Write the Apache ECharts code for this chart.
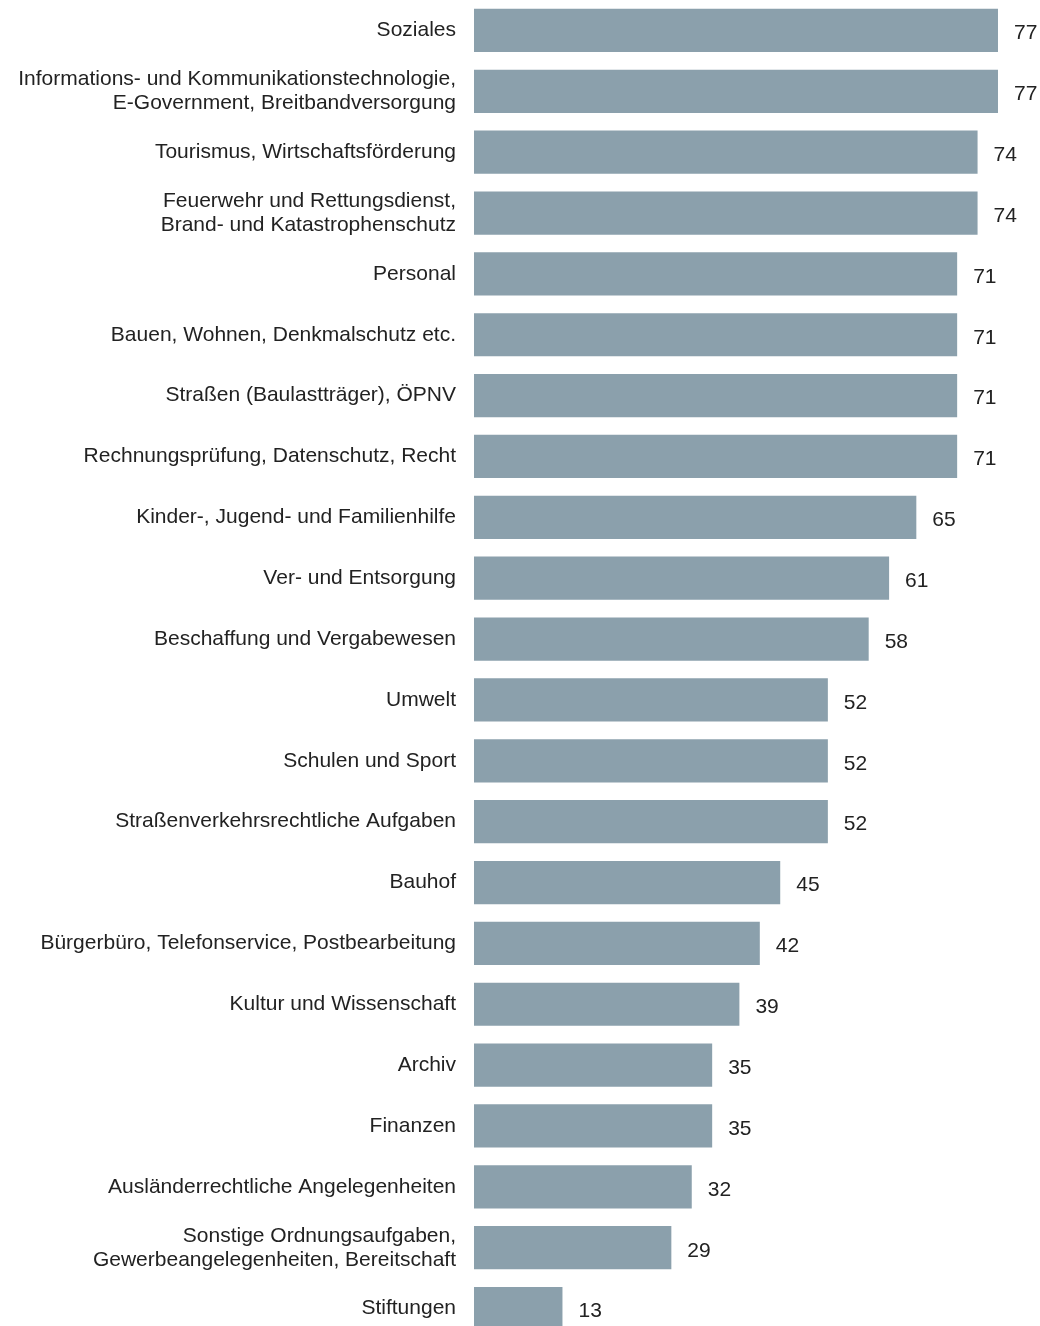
<!DOCTYPE html>
<html>
<head>
<meta charset="utf-8">
<script src="https://cdn.jsdelivr.net/npm/echarts@6/dist/echarts.min.js"></script>
<style>
  html, body { margin: 0; padding: 0; background: #ffffff; }
  #chart { width: 1040px; height: 1326px; }
</style>
</head>
<body>
<div id="chart"></div>
<script>
// Aufgabenbereiche (von oben nach unten)
const categories = [
  'Soziales',
  'Informations- und Kommunikationstechnologie,\nE-Government, Breitbandversorgung',
  'Tourismus, Wirtschaftsförderung',
  'Feuerwehr und Rettungsdienst,\nBrand- und Katastrophenschutz',
  'Personal',
  'Bauen, Wohnen, Denkmalschutz etc.',
  'Straßen (Baulastträger), ÖPNV',
  'Rechnungsprüfung, Datenschutz, Recht',
  'Kinder-, Jugend- und Familienhilfe',
  'Ver- und Entsorgung',
  'Beschaffung und Vergabewesen',
  'Umwelt',
  'Schulen und Sport',
  'Straßenverkehrsrechtliche Aufgaben',
  'Bauhof',
  'Bürgerbüro, Telefonservice, Postbearbeitung',
  'Kultur und Wissenschaft',
  'Archiv',
  'Finanzen',
  'Ausländerrechtliche Angelegenheiten',
  'Sonstige Ordnungsaufgaben,\nGewerbeangelegenheiten, Bereitschaft',
  'Stiftungen'
];

const values = [77, 77, 74, 74, 71, 71, 71, 71, 65, 61, 58, 52, 52, 52, 45, 42, 39, 35, 35, 32, 29, 13];

const FONT = '"Liberation Sans", Arial, sans-serif';

const chart = echarts.init(document.getElementById('chart'), null, { renderer: 'canvas' });

chart.setOption({
  animation: false,
  backgroundColor: '#ffffff',
  grid: {
    left: 474,
    top: 0,
    width: 544.4,
    height: 1339,
    containLabel: false,
    outerBoundsMode: 'none'
  },
  xAxis: {
    type: 'value',
    min: 0,
    max: 80,
    show: false
  },
  yAxis: {
    type: 'category',
    data: categories,
    inverse: true,
    axisLine: { show: false },
    axisTick: { show: false },
    splitLine: { show: false },
    axisLabel: {
      margin: 18,
      color: '#222222',
      fontFamily: FONT,
      fontSize: 21,
      lineHeight: 24,
      align: 'right',
      padding: [4, 0, 0, 0]
    }
  },
  series: [{
    type: 'bar',
    data: values,
    barCategoryGap: '29%',
    itemStyle: { color: '#8ba0ac' },
    label: {
      show: true,
      position: 'right',
      distance: 16,
      offset: [0, 3],
      color: '#222222',
      fontFamily: FONT,
      fontSize: 21
    }
  }]
});
</script>
</body>
</html>
